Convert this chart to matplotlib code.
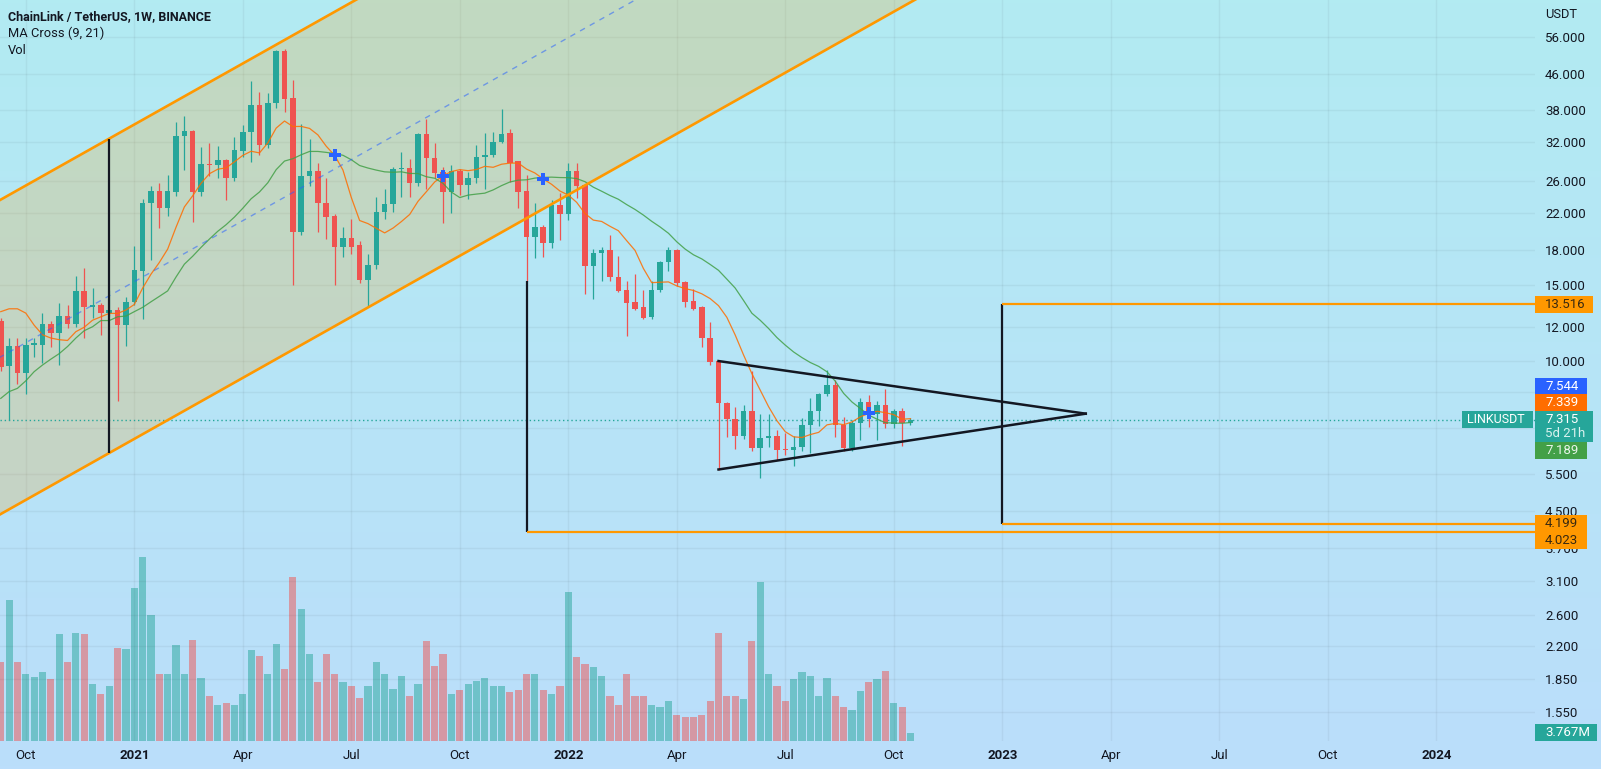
import numpy as np
import pandas as pd
import matplotlib
matplotlib.use('Agg')
import matplotlib.pyplot as plt
from matplotlib.patches import Rectangle
from matplotlib.ticker import FixedLocator, NullLocator, FuncFormatter

# ---------------- data ----------------
start_date = '2020-09-14'
opens = [12.4, 9.74, 10.83, 9.40, 10.89, 10.89, 12.15, 11.58, 12.7, 12.15,
         14.5, 13.34, 13.5, 12.93, 13.1, 12.11, 13.7, 16.1, 23.2, 24.7,
         22.5, 24.6, 33.0, 34.0, 24.6, 28.5, 28.3, 29.1, 26.5, 30.6,
         33.7, 39.0, 31.6, 39.4, 52.0, 40.4, 19.8, 26.7, 27.4, 23.2,
         21.6, 18.35, 19.2, 18.5, 15.4, 16.7, 22.1, 23.0, 27.8, 27.9,
         25.7, 33.4, 29.35, 27.3, 24.5, 27.5, 25.5, 26.4, 29.5, 29.9,
         32.1, 33.6, 28.9, 24.7, 19.35, 20.4, 18.75, 22.9, 21.8, 27.4,
         25.5, 16.6, 17.8, 18.0, 15.6, 14.6, 13.7, 13.3, 12.65, 14.6,
         16.9, 18.05, 15.2, 13.75, 13.3, 11.3, 10.0, 8.0, 7.34, 6.72,
         7.67, 6.29, 6.63, 6.72, 6.25, 6.23, 6.34, 7.12, 7.67, 8.38,
         8.8, 7.12, 6.29, 7.18, 8.03, 7.55, 7.91, 7.14, 7.67, 7.18]
highs = [12.6, 11.3, 11.3, 11.3, 11.3, 12.9, 12.4, 13.6, 13.5, 15.7,
         16.4, 14.76, 13.6, 14.6, 13.3, 14.07, 18.46, 23.7, 25.3, 25.7,
         26.9, 35.6, 36.8, 34.2, 31.2, 31.8, 31.3, 29.2, 32.9, 35.1,
         44.3, 41.8, 41.5, 52.3, 52.5, 44.5, 35.2, 32.6, 28.7, 26.5,
         21.8, 20.4, 21.3, 18.9, 17.7, 23.9, 25.0, 28.0, 30.4, 29.2,
         33.6, 36.1, 31.9, 28.1, 28.3, 27.7, 27.3, 31.5, 33.6, 33.7,
         38.1, 34.4, 29.0, 26.9, 23.2, 20.6, 23.5, 24.4, 28.7, 28.7,
         25.5, 18.1, 18.35, 19.5, 17.5, 15.3, 15.9, 14.6, 15.3, 17.0,
         18.3, 18.1, 15.3, 14.7, 13.4, 12.3, 10.0, 8.05, 7.84, 7.91,
         9.5, 7.55, 7.55, 6.93, 6.83, 6.72, 7.37, 8.2, 8.42, 9.53,
         9.04, 7.43, 7.3, 8.2, 8.35, 8.1, 8.6, 7.75, 7.8, 7.4]
lows = [9.5, 7.31, 8.85, 8.39, 10.2, 9.9, 10.79, 9.8, 11.9, 12.0,
        11.3, 12.6, 11.48, 12.7, 8.1, 10.83, 13.5, 12.5, 17.1, 20.3,
        21.6, 24.0, 27.6, 20.9, 24.0, 26.7, 26.4, 23.5, 26.0, 29.6,
        28.8, 29.9, 31.0, 38.3, 37.6, 14.97, 19.5, 25.3, 19.9, 19.1,
        14.97, 17.4, 17.7, 15.1, 13.34, 16.3, 21.3, 22.1, 23.9, 23.9,
        25.3, 25.0, 26.5, 20.8, 22.0, 24.2, 23.6, 25.8, 25.0, 29.5,
        31.8, 25.9, 22.6, 15.3, 17.3, 17.4, 18.2, 19.0, 21.2, 23.8,
        14.3, 13.9, 15.3, 15.3, 14.4, 11.4, 13.1, 12.5, 12.5, 14.4,
        16.1, 14.9, 13.34, 13.1, 10.75, 9.8, 5.6, 6.69, 6.25, 6.6,
        6.2, 5.36, 6.32, 5.91, 6.07, 5.72, 6.2, 6.13, 7.07, 8.3,
        6.69, 6.2, 6.2, 6.59, 7.03, 6.57, 7.0, 7.0, 6.36, 7.1]
closes = [9.70, 10.83, 9.40, 10.89, 11.0, 12.15, 11.58, 12.7, 12.15, 14.5,
          13.34, 13.5, 12.93, 13.1, 12.11, 13.7, 16.2, 23.2, 24.7, 22.5,
          24.7, 33.0, 34.0, 24.6, 28.5, 28.3, 29.1, 26.5, 30.7, 33.7,
          39.0, 31.6, 39.4, 52.0, 40.2, 19.8, 26.7, 27.4, 23.2, 21.5,
          18.35, 19.2, 18.35, 15.4, 16.7, 22.1, 23.0, 27.8, 27.9, 25.7,
          33.4, 29.35, 27.2, 24.5, 27.5, 25.5, 26.4, 29.5, 29.9, 32.1,
          33.5, 28.7, 24.6, 19.35, 20.4, 18.75, 22.9, 21.8, 27.4, 25.3,
          16.6, 17.8, 18.0, 15.6, 14.5, 13.6, 13.2, 12.6, 14.6, 16.9,
          18.05, 15.1, 13.7, 13.2, 11.3, 9.96, 7.99, 7.34, 6.72, 7.67,
          6.29, 6.63, 6.72, 6.23, 6.23, 6.34, 7.12, 7.67, 8.38, 8.8,
          7.12, 6.29, 7.18, 8.03, 7.55, 7.91, 7.14, 7.67, 7.18, 7.315]
volumes_m = [37.4, 66.3, 37.4, 31.6, 30.1, 32.6, 29.2, 50.4, 37.4, 50.9,
             50.4, 26.8, 22.0, 25.8, 44.1, 43.2, 72.1, 87.0, 59.5, 31.6,
             31.6, 45.1, 31.6, 47.5, 29.7, 21.0, 17.2, 18.1, 17.2, 22.0,
             42.7, 40.3, 31.6, 45.6, 34.0, 77.4, 62.4, 41.2, 27.8, 41.2,
             31.6, 27.8, 25.8, 20.5, 25.8, 37.4, 31.6, 24.4, 30.6, 21.0,
             26.8, 47.0, 35.5, 41.2, 22.0, 23.9, 26.8, 28.2, 29.7, 25.8,
             25.8, 22.9, 23.9, 31.6, 31.6, 23.9, 22.0, 25.8, 70.1, 39.8,
             36.4, 35.0, 30.6, 21.0, 17.2, 31.6, 21.0, 21.0, 17.2, 16.2,
             19.1, 12.4, 11.4, 11.4, 12.4, 19.1, 50.9, 21.0, 21.0, 20.0,
             47.0, 75.0, 31.6, 25.8, 19.1, 29.2, 32.6, 30.6, 21.0, 29.7,
             21.0, 16.2, 14.8, 23.4, 27.8, 29.2, 33.0, 18.1, 16.2, 3.767]
# moving-average values read before enough bars exist on screen
ma9_head = [13.0, 13.2, 13.2, 12.9, 12.1, 11.5, 11.3, 11.2]
ma21_head = [8.2, 8.5, 8.65, 9.0, 9.45, 9.79, 10.1, 10.4, 10.8, 11.3,
             11.75, 12.0, 12.4, 12.4, 12.65, 12.7, 13.0, 13.3, 13.7, 14.1]
cross_bars = [40, 53, 65, 104]

price_ticks = [56, 46, 38, 32, 26, 22, 18, 15, 12, 10, 8.5, 7, 5.5, 4.5,
               3.7, 3.1, 2.6, 2.2, 1.85, 1.55]
hidden_ticks = [8.5, 7]

# drawings: (bar index, price) anchors
channel_x = [-2, 112]
channel_upper = [22.43, 385.3]
channel_mid = [9.73, 167.1]
channel_lower = [4.22, 72.5]
channel_vline = (13, 6.13, 32.6)
pole_vline = (63, 4.023, 15.3)
pole_level = 4.023
target_bar = 120
target_levels = [13.516, 4.199]
tri_x = [86, 130]
tri_upper = [10.0, 7.56]
tri_lower = [5.62, 7.56]
last_price = 7.315
ma_cross_last = 7.544
ma_fast_last = 7.339
ma_slow_last = 7.189
vol_last_label = '3.767M'
countdown = '5d 21h'
symbol = 'LINKUSDT'

# ---------------- figure ----------------
W, H = 1601, 769
DPI = 100
plt.rcParams['font.family'] = ['Roboto', 'DejaVu Sans']
fig = plt.figure(figsize=(W / DPI, H / DPI), dpi=DPI)

TXT = '#131722'
TEAL = '#26a69a'
RED = '#ef5350'
ORANGE = '#ff9800'

# background gradient over whole figure
bg = fig.add_axes([0, 0, 1, 1], zorder=-10)
top_c = np.array([178, 235, 242]) / 255
bot_c = np.array([187, 222, 251]) / 255
t = np.linspace(0, 1, 256)[:, None]
grad = (top_c[None, :] * (1 - t) + bot_c[None, :] * t)[:, None, :]
bg.imshow(grad, aspect='auto', extent=[0, 1, 0, 1])
bg.axis('off')

PLOT_R = 1535
PLOT_B = 741
pos = [0, (H - PLOT_B) / H, PLOT_R / W, PLOT_B / H]

# x mapping: bar index; pixel = 0.75 + 8.346*i
px_per_bar = 8.346
x0_px = 0.75
xlim = ((0 - x0_px) / px_per_bar, (PLOT_R - x0_px) / px_per_bar)

n = len(closes)
x = np.arange(n)
o = np.array(opens); c = np.array(closes); hi = np.array(highs); lo = np.array(lows)
up = c >= o
colors = np.where(up, TEAL, RED)

# volume axes (below)
axv = fig.add_axes(pos, zorder=1)
axv.patch.set_visible(False)
vcols = [(0.149, 0.651, 0.604, 0.5) if u else (0.937, 0.325, 0.314, 0.5) for u in up]
axv.bar(x, volumes_m, width=0.86, color=vcols, linewidth=0)
axv.set_xlim(*xlim)
axv.set_ylim(0, PLOT_B / 2.12)
axv.axis('off')

# main price axes
ax = fig.add_axes(pos, zorder=2)
ax.patch.set_visible(False)
ax.set_yscale('log')
ax.set_xlim(*xlim)
ax.set_ylim(1.328, 68.1)
for s in ax.spines.values():
    s.set_visible(False)

ax.yaxis.set_major_locator(FixedLocator(price_ticks))
ax.yaxis.set_minor_locator(NullLocator())
ax.yaxis.set_major_formatter(
    FuncFormatter(lambda v, _: '' if any(abs(v - h) < 1e-6 for h in hidden_ticks) else f'{v:.3f}'))
ax.yaxis.tick_right()
ax.tick_params(axis='y', length=0, pad=7.2, labelsize=9.5, labelcolor=TXT)

dates = pd.date_range(start_date, periods=190, freq='W-MON')
tick_idx, tick_lab = [], []
seen = set()
for i, d in enumerate(dates):
    if i > xlim[1] - 1:
        break
    if d.month in (1, 4, 7, 10) and (d.year, d.month) not in seen:
        seen.add((d.year, d.month))
        tick_idx.append(i)
        tick_lab.append(str(d.year) if d.month == 1 else d.strftime('%b'))
ax.set_xticks(tick_idx)
ax.set_xticklabels(tick_lab)
ax.tick_params(axis='x', length=0, pad=5.6, labelsize=9.5, labelcolor=TXT)
for lbl in ax.get_xticklabels():
    if lbl.get_text().isdigit():
        lbl.set_fontweight('bold')
ax.grid(True, color='#2a2e39', alpha=0.06, linewidth=1)
ax.set_axisbelow(True)

# channel drawing
ax.fill_between(channel_x, channel_lower, channel_upper, color=ORANGE, alpha=0.2,
                linewidth=0, zorder=1)
ax.plot(channel_x, channel_upper, color=ORANGE, lw=1.9, zorder=6)
ax.plot(channel_x, channel_lower, color=ORANGE, lw=1.9, zorder=6)
ax.plot(channel_x, channel_mid, color='#2962ff', alpha=0.55, lw=1.0,
        ls=(0, (4, 4)), zorder=6)
ax.vlines(channel_vline[0], channel_vline[1], channel_vline[2], color=TXT, lw=1.6, zorder=6)

# candles
ax.vlines(x, lo, hi, colors=colors, lw=0.9, zorder=3)
bot = np.minimum(o, c); top = np.maximum(o, c)
ax.bar(x, top - bot, bottom=bot, width=0.66, color=colors, linewidth=0, zorder=3.1)

# moving averages
cs = pd.Series(closes)
ma9 = cs.rolling(9).mean().to_numpy()
ma9[:len(ma9_head)] = ma9_head
ma21 = cs.rolling(21).mean().to_numpy()
ma21[:len(ma21_head)] = ma21_head
ax.plot(x, ma9, color='#ff6d00', lw=0.9, alpha=0.85, zorder=4)
ax.plot(x, ma21, color='#43a047', lw=0.9, alpha=0.85, zorder=4)
ax.plot(cross_bars, ma9[cross_bars], 'P', color='#2962ff', ms=8, mew=0, zorder=5)

# price line
ax.axhline(last_price, color=TEAL, lw=1, ls=(0, (1, 2)), zorder=2.5)

# pole and target drawings
ax.vlines(pole_vline[0], pole_vline[1], pole_vline[2], color=TXT, lw=1.6, zorder=6)
ax.hlines(pole_level, pole_vline[0], 200, color=ORANGE, lw=1.6, zorder=6)
ax.vlines(target_bar, target_levels[1], target_levels[0], color=TXT, lw=1.6, zorder=6)
for lv in target_levels:
    ax.hlines(lv, target_bar, 200, color=ORANGE, lw=1.6, zorder=6)

# triangle
ax.plot(tri_x, tri_upper, color=TXT, lw=1.8, zorder=6)
ax.plot(tri_x, tri_lower, color=TXT, lw=1.8, zorder=6)

# ---------------- texts / labels ----------------
def fx(px):
    return px / W

def fy(py):
    return 1 - py / H

fig.text(fx(8), fy(16.5), 'ChainLink / TetherUS, 1W, BINANCE', fontsize=9.0,
         fontweight='bold', color=TXT, va='center', ha='left')
fig.text(fx(8), fy(33.5), 'MA Cross (9, 21)', fontsize=9.3, color=TXT, va='center', ha='left')
fig.text(fx(8), fy(50.5), 'Vol', fontsize=9.3, color=TXT, va='center', ha='left')
fig.text(fx(1545), fy(14), 'USDT', fontsize=9.3, color=TXT, va='center', ha='left')


def box(yc, text, fc, tc, x_left=PLOT_R, w=52, h=17, text_x=None, fs=9.5):
    fig.add_artist(Rectangle((fx(x_left), fy(yc + h / 2)), w / W, h / H,
                             transform=fig.transFigure, facecolor=fc,
                             edgecolor='none', zorder=5))
    tx = x_left + 10 if text_x is None else text_x
    fig.text(fx(tx), fy(yc), text, fontsize=fs, color=tc, va='center',
             ha='left', zorder=6)


box(304.5, f'{target_levels[0]:.3f}', ORANGE, '#3a2a10', w=58)
box(386, f'{ma_cross_last:.3f}', '#2962ff', 'white')
box(402, f'{ma_fast_last:.3f}', '#ff6d00', 'white')
# last price box (two lines)
fig.add_artist(Rectangle((fx(PLOT_R), fy(442)), 58 / W, 31 / H,
                         transform=fig.transFigure, facecolor=TEAL,
                         edgecolor='none', zorder=5))
fig.text(fx(1545), fy(419.5), f'{last_price:.3f}', fontsize=9.5, color='white',
         va='center', ha='left', zorder=6)
fig.text(fx(1545), fy(433.5), countdown, fontsize=9.5, color='#d9f2ef',
         va='center', ha='left', zorder=6)
box(419.5, symbol, TEAL, 'white', x_left=1462, w=71, text_x=1467, fs=9.0)
box(450.5, f'{ma_slow_last:.3f}', '#43a047', '#e8f5e9')
box(523.3, f'{target_levels[1]:.3f}', ORANGE, '#3a2a10')
box(540, f'{pole_level:.3f}', ORANGE, '#3a2a10')
box(732.5, vol_last_label, TEAL, 'white', w=62)

fig.savefig('out.png', dpi=DPI)
